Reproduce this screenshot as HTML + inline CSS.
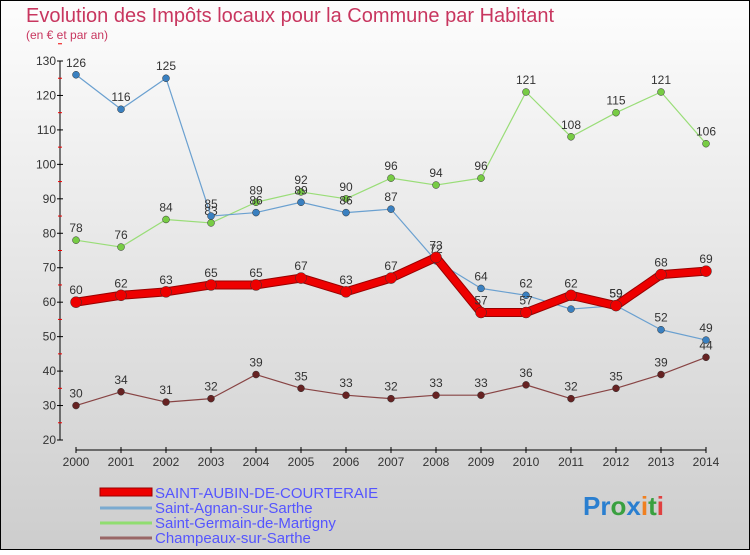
<!DOCTYPE html>
<html><head><meta charset="utf-8"><style>
body{margin:0;}
#c{width:750px;height:550px;position:relative;font-family:"Liberation Sans",sans-serif;}
svg text{font-family:"Liberation Sans",sans-serif;}
</style></head><body>
<div id="c">
<svg id="s" width="750" height="550" xmlns="http://www.w3.org/2000/svg">
<defs><linearGradient id="bg" x1="0" y1="0" x2="0" y2="1"><stop offset="0" stop-color="#fdfdfd"/><stop offset="1" stop-color="#cdcdcd"/></linearGradient></defs>
<rect x="0.5" y="0.5" width="749" height="549" fill="url(#bg)" stroke="#000"/>
<text x="26" y="22" font-size="20" fill="#c8365f">Evolution des Impôts locaux pour la Commune par Habitant</text>
<text x="26" y="39" font-size="12" fill="#c8365f">(en € et par an)</text>
<g id="axes"></g><g id="marks"></g>
<g>
<rect x="100" y="488" width="52" height="8" fill="#e00" stroke="#900" stroke-width="1"/>
<text x="155" y="498" font-size="15" fill="#5555ff">SAINT-AUBIN-DE-COURTERAIE</text>
<line x1="100" y1="508" x2="152" y2="508" stroke="#7aaad0" stroke-width="3"/>
<text x="155" y="513" font-size="15" fill="#5555ff">Saint-Agnan-sur-Sarthe</text>
<line x1="100" y1="523" x2="152" y2="523" stroke="#90dd70" stroke-width="3"/>
<text x="155" y="528" font-size="15" fill="#5555ff">Saint-Germain-de-Martigny</text>
<line x1="100" y1="538" x2="152" y2="538" stroke="#996666" stroke-width="3"/>
<text x="155" y="543" font-size="15" fill="#5555ff">Champeaux-sur-Sarthe</text>
</g>
<text x="583" y="515" font-size="26" font-weight="bold"><tspan fill="#2a7fd0">Pr</tspan><tspan fill="#3aa040">o</tspan><tspan fill="#2a7fd0">x</tspan><tspan fill="#f08020">i</tspan><tspan fill="#3aa040">t</tspan><tspan fill="#e04040">i</tspan></text>
</svg></div>
<script>
const years=[2000,2001,2002,2003,2004,2005,2006,2007,2008,2009,2010,2011,2012,2013,2014];
const yTicks=[20,30,40,50,60,70,80,90,100,110,120,130];
const saintAubin=[60,62,63,65,65,67,63,67,73,57,57,62,59,68,69];
const saintAgnan=[126,116,125,85,86,89,86,87,72,64,62,58,59,52,49];
const saintGermain=[78,76,84,83,89,92,90,96,94,96,121,108,115,121,106];
const champeaux=[30,34,31,32,39,35,33,32,33,33,36,32,35,39,44];
const NS="http://www.w3.org/2000/svg";
const x=i=>76+i*(706-76)/(years.length-1);
const y=v=>440-(v-20)*(440-61)/110;
function el(t,a,p){const e=document.createElementNS(NS,t);for(const k in a)e.setAttribute(k,a[k]);p.appendChild(e);return e;}
const ax=document.getElementById('axes'),mk=document.getElementById('marks');
const ya=el('line',{x1:60,y1:61,x2:60,y2:440,stroke:'#000'},ax);


yTicks.forEach(v=>{
 el('line',{x1:57,y1:y(v),x2:63,y2:y(v),stroke:'#000'},ax);
 el('line',{x1:58,y1:y(v+5),x2:62,y2:y(v+5),stroke:'#e00'},ax);
 const t=el('text',{x:56,y:y(v)+4,'font-size':12,fill:'#333','text-anchor':'end'},ax);t.textContent=v;
 
 
});
const xa=el('line',{x1:76,y1:450,x2:706,y2:450,stroke:'#000'},ax);


years.forEach((yr,i)=>{
 el('line',{x1:x(i),y1:447,x2:x(i),y2:453,stroke:'#000'},ax);
 const t=el('text',{x:x(i),y:466,'font-size':12,fill:'#333','text-anchor':'middle'},ax);t.textContent=yr;
 
 
});
function series(d,col,dot,w,r,name){
 const g=el('g',{},mk);
 
 
 const pts=d.map((v,i)=>x(i)+','+y(v)).join(' ');
 if(w>3)el('polyline',{points:pts,fill:'none',stroke:'#900','stroke-width':w+2,'stroke-linejoin':'round'},g);
 el('polyline',{points:pts,fill:'none',stroke:col,'stroke-width':w,'stroke-linejoin':'round'},g);
 d.forEach((v,i)=>{
  const c=el('circle',{cx:x(i),cy:y(v),r:r,fill:dot,stroke:'#333','stroke-width':0.5},g);
  
  
  const t=el('text',{x:x(i),y:y(v)-8,'font-size':12,fill:'#333','text-anchor':'middle'},g);t.textContent=v;
  
  
 });
}
series(champeaux,'#884444','#662222',1.2,3.5,'series-champeaux');
series(saintGermain,'#99dd77','#77cc44',1.2,3.5,'series-saint-germain');
series(saintAgnan,'#6aa0d0','#3a80c0',1.2,3.5,'series-saint-agnan');
series(saintAubin,'#ee0000','#ee0000',7,5.5,'series-saint-aubin');
</script>
</body></html>
